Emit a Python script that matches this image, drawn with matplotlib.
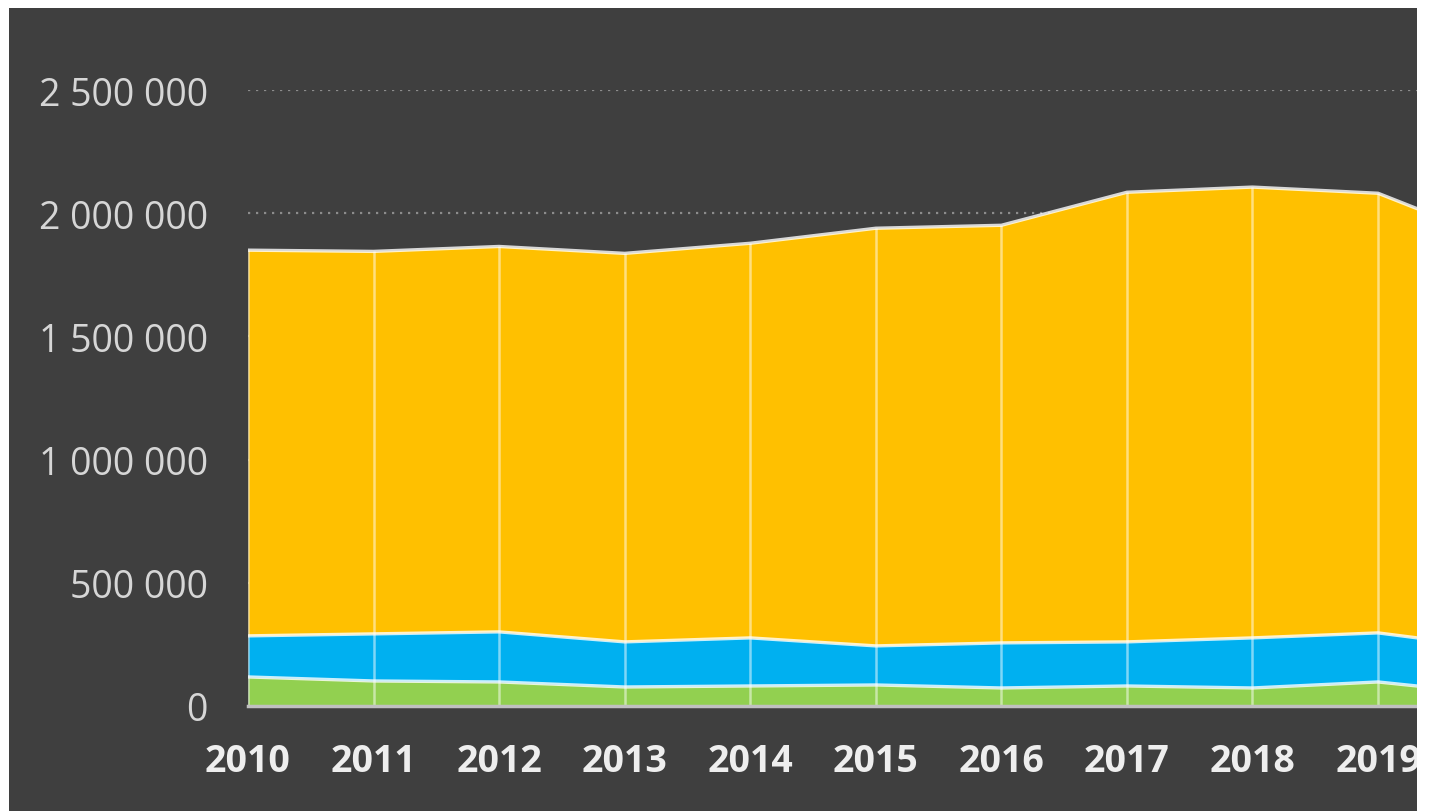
import matplotlib
matplotlib.use("Agg")
import matplotlib.pyplot as plt
from matplotlib.patches import Rectangle
from matplotlib.ticker import FuncFormatter
import numpy as np

# ---- data ----
years = [2010, 2011, 2012, 2013, 2014, 2015, 2016, 2017, 2018, 2019, 2020]
green = [117900, 101600, 97600, 77200, 81300, 85400, 73200, 81300, 73200, 97600, 44700]
blue = [166700, 191100, 203200, 183000, 195100, 158500, 182900, 178900, 203200, 199100, 187000]
yellow = [1565400, 1552300, 1564200, 1576800, 1601600, 1695100, 1694900, 1824800, 1829600, 1784300, 1648300]
ytick_values = [0, 500000, 1000000, 1500000, 2000000, 2500000]
xtick_years = [2010, 2011, 2012, 2013, 2014, 2015, 2016, 2017, 2018, 2019]
xtick_labels = [str(y) for y in xtick_years]

plt.rcParams['font.family'] = ['Open Sans', 'DejaVu Sans']

W, H = 1430, 812
bg = '#3f3f3f'
fig = plt.figure(figsize=(W / 100, H / 100), dpi=100, facecolor='white')
fig.patches.append(Rectangle((9 / W, 0), (1417 - 9) / W, (H - 9) / H,
                             transform=fig.transFigure, facecolor=bg,
                             edgecolor='none', zorder=-10))

ax = fig.add_axes([248 / W, (H - 707) / H, (1417 - 248) / W, (707 - 91) / H])
ax.patch.set_alpha(0)

# dotted gridlines
for v in ytick_values[1:]:
    ax.axhline(v, color='#8c8c8c', lw=1.6, ls=(0, (1, 2.6)), zorder=1)

g = np.array(green, dtype=float)
b = np.array(blue, dtype=float)
yv = np.array(yellow, dtype=float)
c1 = g
c2 = g + b
c3 = c2 + yv

ax.fill_between(years, 0, c1, color='#92D050', lw=0, zorder=2)
ax.fill_between(years, c1, c2, color='#00B0F0', lw=0, zorder=2)
ax.fill_between(years, c2, c3, color='#FFC000', lw=0, zorder=2)

ax.vlines(years, 0, c3, color='white', alpha=0.5, lw=1.8, zorder=2.5)
for c in (c1, c2, c3):
    ax.plot(years, c, color='white', alpha=0.8, lw=2.4, zorder=3,
            solid_joinstyle='round')

for s in ('top', 'right', 'left'):
    ax.spines[s].set_visible(False)
ax.spines['bottom'].set_color('#c0c0c0')
ax.spines['bottom'].set_linewidth(2.5)
ax.spines['bottom'].set_zorder(4)

ax.set_yticks(ytick_values)
ax.yaxis.set_major_formatter(FuncFormatter(lambda v, p: f"{v:,.0f}".replace(",", " ")))
ax.set_xticks(xtick_years)
ax.set_xticklabels(xtick_labels)

ax.set_xlim(2010, 2010 + 1169 / 125.56)
ax.set_ylim(0, 2500000)

ax.tick_params(axis='y', length=0, pad=29, labelsize=27, labelcolor='#d6d6d6')
ax.tick_params(axis='x', length=0, pad=26, labelsize=27, labelcolor='#eeeeee')
for t in ax.get_xticklabels():
    t.set_fontweight('bold')

# right white strip clipping the chart
fig.add_artist(Rectangle((1417 / W, 0), 13 / W, 1, transform=fig.transFigure,
                         facecolor='white', edgecolor='none', zorder=20))

fig.savefig('out.png', dpi=100)
